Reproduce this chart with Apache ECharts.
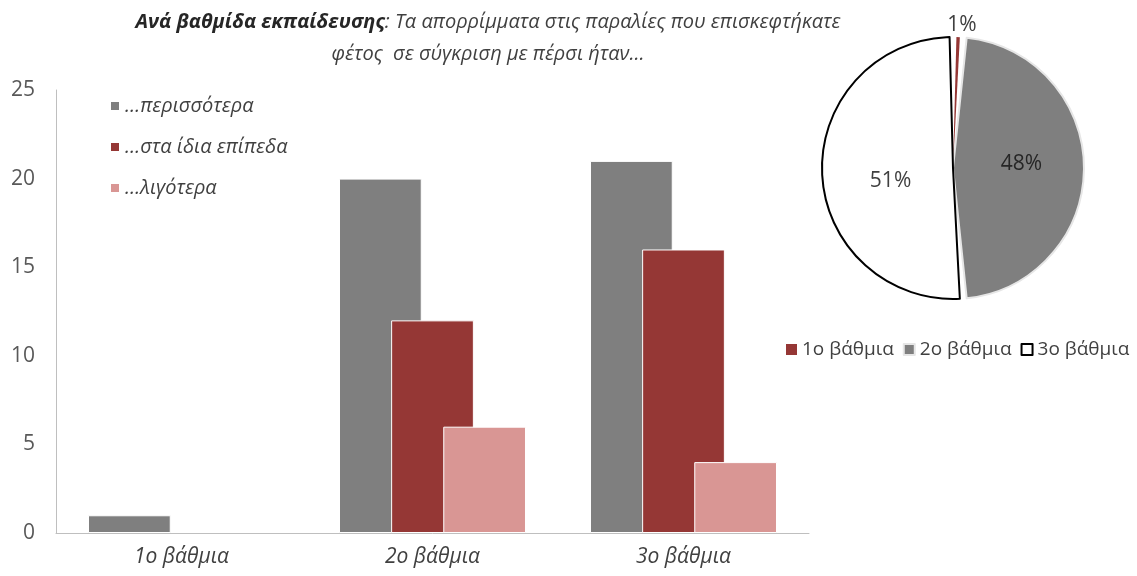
<!DOCTYPE html>
<html><head><meta charset="utf-8">
<script src="https://cdn.jsdelivr.net/npm/echarts@6/dist/echarts.min.js"></script>
<style>html,body{margin:0;padding:0;background:#fff}#c{width:1137px;height:576px}</style>
</head><body><div id="c"></div>
<script>
const categories = ['1ο βάθμια', '2ο βάθμια', '3ο βάθμια'];
const seriesNames = ['…περισσότερα', '…στα ίδια επίπεδα', '…λιγότερα'];
const more = [1, 20, 21];
const same = [0, 12, 16];
const less = [0, 6, 4];
const pieNames = ['1ο βάθμια', '2ο βάθμια', '3ο βάθμια'];
const pieValues = [1, 38, 41];
const yTicks = [0, 5, 10, 15, 20, 25];

const FONT = '"Open Sans", sans-serif';
const colors = ['#7f7f7f', '#953735', '#d99694'];

const chart = echarts.init(document.getElementById('c'));
const barSeries = [more, same, less].map((d, i) => ({
  name: seriesNames[i], type: 'bar', data: d.map(v => v === 0 ? '-' : v),
  barGap: '-37%', barCategoryGap: '25.5%',
  itemStyle: { color: colors[i], borderColor: '#fff', borderWidth: 1 }
}));

chart.setOption({
  animation: false,
  textStyle: { fontFamily: FONT },
  title: {
    left: 483, top: 1, textAlign: 'center',
    text: '{b|Ανά βαθμίδα εκπαίδευσης}{n|: Τα απορρίμματα στις παραλίες που επισκεφτήκατε}\n{n|φέτος  σε σύγκριση με πέρσι ήταν...}',
    textStyle: {
      rich: {
        b: { fontFamily: FONT, fontSize: 20, fontStyle: 'italic', fontWeight: 'bold', color: '#262626', lineHeight: 32 },
        n: { fontFamily: FONT, fontSize: 20, fontStyle: 'italic', fontWeight: 'normal', color: '#404040', lineHeight: 32 }
      }
    }
  },
  legend: [{
    data: seriesNames, orient: 'vertical', left: 104, top: 91, itemGap: 21,
    itemWidth: 10, itemHeight: 10, icon: 'rect',
    textStyle: { fontFamily: FONT, fontSize: 20, fontStyle: 'italic', color: '#404040' }
  }, {
    data: pieNames, orient: 'horizontal', left: 781, top: 335, itemGap: 9,
    itemWidth: 11, itemHeight: 11, icon: 'rect',
    textStyle: { fontFamily: FONT, fontSize: 19, color: '#404040' }
  }],
  grid: { left: 56, right: 328, top: 90, bottom: 43 },
  xAxis: {
    type: 'category', data: categories,
    axisLine: { lineStyle: { color: '#bfbfbf' } },
    axisTick: { show: false },
    axisLabel: { fontFamily: FONT, fontSize: 21, fontStyle: 'italic', color: '#404040', margin: 14 }
  },
  yAxis: {
    type: 'value', min: yTicks[0], max: yTicks[yTicks.length - 1], interval: 5,
    axisLine: { show: true, lineStyle: { color: '#bfbfbf' } },
    axisTick: { show: false },
    splitLine: { show: false },
    axisLabel: { fontFamily: FONT, fontSize: 21, color: '#595959', margin: 21 }
  },
  series: barSeries.concat([{
    type: 'pie', center: [953, 168], radius: 131, startAngle: 90, padAngle: 3,
    data: pieNames.map((n, i) => ({
      name: n, value: pieValues[i],
      itemStyle: i === 0 ? { color: '#953735' } : i === 1 ? { color: '#7f7f7f', borderColor: '#e6e6e6', borderWidth: 2 } : { color: '#ffffff', borderColor: '#000', borderWidth: 2 },
      label: i === 0 ? { position: 'outside', color: '#404040' } : { position: 'inner', color: i === 1 ? '#262626' : '#404040' },
      labelLine: { show: false, length: 0, length2: 0 }
    })),
    labelLayout: p => p.dataIndex === 0 ? { dx: -16, dy: -12 } : (p.dataIndex === 2 ? { dx: 6, dy: 10 } : { dy: -4 }),
    label: { formatter: p => Math.round(p.percent) + '%', fontFamily: FONT, fontSize: 21 }
  }])
});
</script></body></html>
